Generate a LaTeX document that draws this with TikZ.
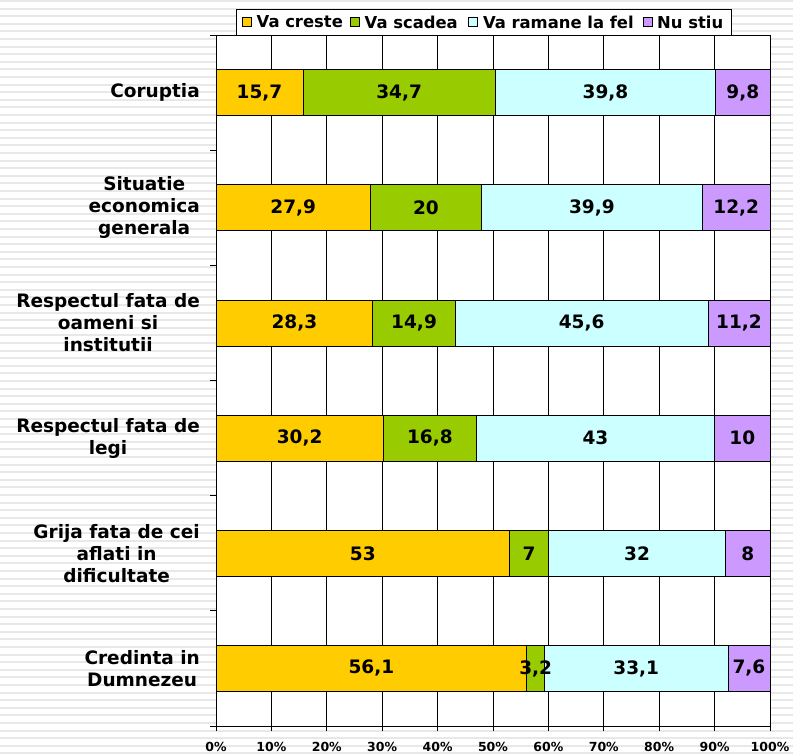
\documentclass[tikz,border=0pt]{standalone}
\usepackage{fontspec}
\setmainfont{DejaVu Sans}
\usetikzlibrary{positioning}
\definecolor{creste}{HTML}{FFCC00}
\definecolor{scadea}{HTML}{99CC00}
\definecolor{ramane}{HTML}{CCFFFF}
\definecolor{nustiu}{HTML}{CC99FF}
\pgfkeys{/pgf/number format/.cd,use comma,assume math mode=true}

\begin{document}
\begin{tikzpicture}
		[x=1pt,y=-1pt,
		bar/.style={draw=black,line width=0.8pt},
		val/.style={font=\bfseries\fontsize{18.5}{20}\selectfont,inner sep=0pt},
		cat/.style={font=\bfseries\fontsize{18.5}{22}\selectfont,align=center,anchor=east,inner sep=0pt},
		pct/.style={font=\bfseries\fontsize{12.5}{14}\selectfont,inner sep=0pt},
		key/.style={draw=black,line width=0.6pt,minimum size=8.5pt,inner sep=0pt},
		keytext/.style={font=\bfseries\fontsize{16.4}{18}\selectfont,inner sep=0pt,anchor=west}]
		\useasboundingbox (0,0) rectangle (793,755);
		%striped background
		\foreach \s in {0,7.6,...,755}
		\fill[gray!18] (0,\s) rectangle (793,\s+2);
		\fill[white] (216,35) rectangle (770,726);
		%grid and axes
		\foreach \k in {1,...,9}
		\draw[line width=0.8pt] (216+55.4*\k,35) -- (216+55.4*\k,726);
		\foreach \j in {0,...,6}
		\draw[line width=0.8pt] (210,35+115.17*\j) -- (216,35+115.17*\j);
		\foreach \k in {0,...,10}
		\draw[line width=0.8pt] (216+55.4*\k,726) -- (216+55.4*\k,731);
		\draw[line width=0.8pt] (216,35) rectangle (770,726);
		\foreach \k in {0,...,10}{
			\pgfmathtruncatemacro\pc{10*\k}
			\node[pct] (p\k) at (216+55.4*\k,746.5) {\pc\%};
		}
		%bars
		\foreach \r/\a/\b/\c/\d [count=\i] in {
			{Coruptia}/15.7/34.7/39.8/9.8,
			{Situatie\\economica\\generala}/27.9/20/39.9/12.2,
			{Respectul fata de\\oameni si\\institutii}/28.3/14.9/45.6/11.2,
			{Respectul fata de\\legi}/30.2/16.8/43/10,
			{Grija fata de cei\\aflati in\\dificultate}/53/7/32/8,
			{Credinta in\\Dumnezeu}/56.1/3.2/33.1/7.6}{
			\pgfmathsetmacro\yc{92.6+115.17*(\i-1)}
			\pgfmathsetmacro\xa{216+5.54*\a}
			\pgfmathsetmacro\xb{\xa+5.54*\b}
			\pgfmathsetmacro\xc{\xb+5.54*\c}
			\draw[bar,fill=creste] (216,\yc-23) rectangle (\xa,\yc+23);
			\draw[bar,fill=scadea] (\xa,\yc-23) rectangle (\xb,\yc+23);
			\draw[bar,fill=ramane] (\xb,\yc-23) rectangle (\xc,\yc+23);
			\draw[bar,fill=nustiu] (\xc,\yc-23) rectangle (770,\yc+23);
			\node[val] (v\i-1) at ({(216+\xa)/2},\yc) {\pgfmathprintnumber{\a}};
			\node[val] (v\i-2) at ({(\xa+\xb)/2},\yc) {\pgfmathprintnumber{\b}};
			\node[val] (v\i-3) at ({(\xb+\xc)/2},\yc) {\pgfmathprintnumber{\c}};
			\node[val] (v\i-4) at ({(\xc+770)/2},\yc) {\pgfmathprintnumber{\d}};
			\node[cat] (c\i) at (200,\yc) {\r};
		}
		%legend
		\draw[line width=0.8pt,fill=white] (236,9) rectangle (731,35);
		\node[key,fill=creste] (k1) at (247,22) {};
		\node[keytext] (t1) at (256.5,22) {Va creste};
		\node[key,fill=scadea] (k2) at (355,22) {};
		\node[keytext] (t2) at (364.5,22) {Va scadea};
		\node[key,fill=ramane] (k3) at (473,22) {};
		\node[keytext] (t3) at (482.8,22) {Va ramane la fel};
		\node[key,fill=nustiu] (k4) at (648,22) {};
		\node[keytext] (t4) at (657,22) {Nu stiu};
	\end{tikzpicture}
\end{document}
